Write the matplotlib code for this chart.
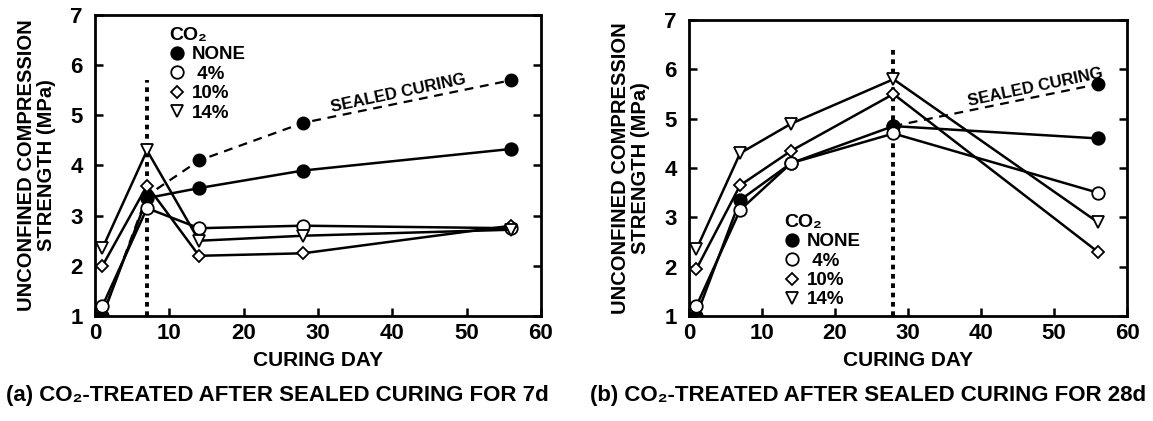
import matplotlib
matplotlib.use("Agg")
import matplotlib.pyplot as plt

# curing days and strengths (MPa)
days = [1, 7, 14, 28, 56]

# (a) CO2 exposure starts after 7 days of sealed curing
a_sealed = [1.0, 3.4, 4.1, 4.85, 5.7]
a_none = [1.0, 3.35, 3.55, 3.9, 4.33]
a_co2_4 = [1.2, 3.15, 2.75, 2.8, 2.75]
a_co2_10 = [2.0, 3.6, 2.2, 2.25, 2.8]
a_co2_14 = [2.35, 4.3, 2.5, 2.6, 2.72]

# (b) CO2 exposure starts after 28 days of sealed curing
b_sealed = [4.85, 5.7]
b_sealed_days = [28, 56]
b_none = [1.0, 3.35, 4.1, 4.85, 4.6]
b_co2_4 = [1.2, 3.15, 4.1, 4.7, 3.5]
b_co2_10 = [1.95, 3.65, 4.35, 5.5, 2.3]
b_co2_14 = [2.35, 4.3, 4.9, 5.8, 2.9]

legend_labels = ["NONE", " 4%", "10%", "14%"]
captions = ["(a) CO\u2082-TREATED AFTER SEALED CURING FOR 7d",
            "(b) CO\u2082-TREATED AFTER SEALED CURING FOR 28d"]

bold = dict(family=["Liberation Sans", "DejaVu Sans"], weight="bold")

fig = plt.figure(figsize=(11.53, 4.21), dpi=100)
ax_a = fig.add_axes([0.0824, 0.2494, 0.3868, 0.7150])
ax_b = fig.add_axes([0.5976, 0.2494, 0.3799, 0.7030])

styles = [dict(marker="o", mfc="black", ms=9),
          dict(marker="o", mfc="white", ms=9),
          dict(marker="D", mfc="white", ms=6.5),
          dict(marker="v", mfc="white", ms=9)]


def draw(ax, series, sealed_x, sealed_y, cut_day, cut_top, leg_anchor, sealed_txt):
    ax.plot(sealed_x, sealed_y, ls=(0, (4, 3)), color="black", lw=1.6,
            marker="o", mfc="black", mec="black", ms=9, zorder=2)
    for vals, st in zip(series, styles):
        ax.plot(days, vals, color="black", lw=1.8, mec="black",
                mew=1.3, zorder=3, **st)
    ax.plot([cut_day, cut_day], [1, cut_top], ls=(0, (1.2, 1.2)),
            color="black", lw=2.8, zorder=1)
    ax.set_xlim(0, 60)
    ax.set_ylim(1, 7)
    ax.set_xticks(range(0, 61, 10))
    ax.set_yticks(range(1, 8))
    ax.tick_params(direction="in", length=6, width=1.8, right=True,
                   labelsize=16, pad=5)
    ax.tick_params(axis="y", pad=9)
    for lab in ax.get_xticklabels() + ax.get_yticklabels():
        lab.set_fontfamily(bold["family"])
        lab.set_fontweight("bold")
    for sp in ax.spines.values():
        sp.set_linewidth(2)
    ax.set_ylabel("UNCONFINED COMPRESSION\nSTRENGTH (MPa)", fontsize=14.5,
                  linespacing=1.05, labelpad=10, **bold)
    ax.set_xlabel("CURING DAY", fontsize=15, labelpad=5, **bold)
    handler_handles = [plt.Line2D([], [], ls="none", color="black", mec="black",
                                  mew=1.3, **st) for st in styles]
    leg = ax.legend(handler_handles, legend_labels, title="CO\u2082",
                    loc="upper left", bbox_to_anchor=leg_anchor, frameon=False,
                    handlelength=0.8, handletextpad=0.4, labelspacing=0.12,
                    borderaxespad=0, prop=dict(size=13.5, **bold),
                    title_fontproperties=dict(size=14, **bold))
    leg._legend_box.align = "left"
    ax.text(*sealed_txt[0], "SEALED CURING", rotation=sealed_txt[1],
            fontsize=12, ha="left", va="bottom", **bold)


draw(ax_a, [a_none, a_co2_4, a_co2_10, a_co2_14], days, a_sealed, 7, 5.7,
     (0.15, 0.985), ((31.5, 5.0), 12))
draw(ax_b, [b_none, b_co2_4, b_co2_10, b_co2_14], b_sealed_days, b_sealed, 28, 6.4,
     (0.20, 0.37), ((38.0, 5.2), 12))

fig.text(0.2405, 0.035, captions[0], ha="center", va="bottom", fontsize=16, **bold)
fig.text(0.7527, 0.035, captions[1], ha="center", va="bottom", fontsize=16, **bold)

fig.savefig("out.png", dpi=100)
